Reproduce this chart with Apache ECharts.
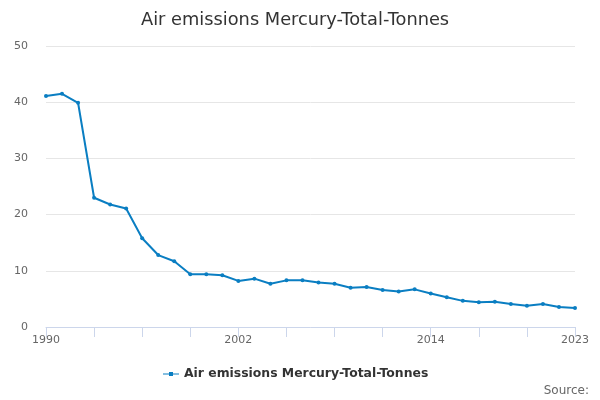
<!DOCTYPE html>
<html>
<head>
<meta charset="utf-8">
<script src="https://cdn.jsdelivr.net/npm/echarts@6/dist/echarts.min.js"></script>
<style>
  html, body { margin: 0; padding: 0; background: #fff; }
  #chart { width: 600px; height: 400px; }
</style>
</head>
<body>
<div id="chart"></div>
<script>
// data
var years = [];
for (var y = 1990; y <= 2023; y++) years.push(String(y));
var mercury = [41.1, 41.5, 39.9, 23.0, 21.8, 21.1, 15.8, 12.8, 11.7, 9.4,
               9.4, 9.2, 8.2, 8.6, 7.7, 8.3, 8.3, 7.9, 7.7, 7.0,
               7.1, 6.6, 6.3, 6.7, 5.95, 5.3, 4.65, 4.4, 4.5, 4.1,
               3.8, 4.1, 3.55, 3.4];
var shownLabels = ['1990', '2002', '2014', '2023'];
var seriesName = 'Air emissions Mercury-Total-Tonnes';

var myChart = echarts.init(document.getElementById('chart'));
var option = {
    animation: false,
    textStyle: { fontFamily: 'DejaVu Sans' },
    title: {
        text: seriesName,
        left: 136,
        top: 6,
        textStyle: { fontSize: 17.8, fontWeight: 'normal', color: '#333333', fontFamily: 'DejaVu Sans' }
    },
    legend: {
        bottom: 15,
        left: 158,
        itemWidth: 16,
        itemHeight: 6,
        itemGap: 5,
        textStyle: { fontSize: 12.4, fontWeight: 'bold', color: '#333333' },
        data: [{ name: seriesName, icon: 'path://M0,2.5L16,2.5L16,3.5L0,3.5Z M6,1L10,1L10,5L6,5Z' }]
    },
    graphic: [{
        type: 'text',
        right: 11,
        bottom: 3,
        style: { text: 'Source:', fill: '#666666', fontSize: 12, fontFamily: 'DejaVu Sans' }
    }],
    grid: { left: 46, right: 25, top: 46, bottom: 73 },
    xAxis: {
        type: 'category',
        data: years,
        boundaryGap: false,
        axisLine: { lineStyle: { color: '#ccd6eb' } },
        axisTick: { interval: 2, length: 10, lineStyle: { color: '#ccd6eb' } },
        axisLabel: {
            interval: 0,
            color: '#666666',
            fontSize: 11,
            margin: 8,
            formatter: function (v) { return shownLabels.indexOf(v) >= 0 ? v : ''; }
        }
    },
    yAxis: {
        type: 'value',
        min: 0,
        max: 50,
        interval: 10,
        axisLine: { show: false },
        axisTick: { show: false },
        axisLabel: { color: '#666666', fontSize: 11, margin: 18 },
        splitLine: { lineStyle: { color: '#e6e6e6' } }
    },
    series: [{
        name: seriesName,
        type: 'line',
        data: mercury,
        symbol: 'circle',
        symbolSize: 4,
        itemStyle: { color: '#0a7ec2' },
        lineStyle: { width: 2, color: '#0a7ec2' }
    }]
};
myChart.setOption(option);
</script>
</body>
</html>
